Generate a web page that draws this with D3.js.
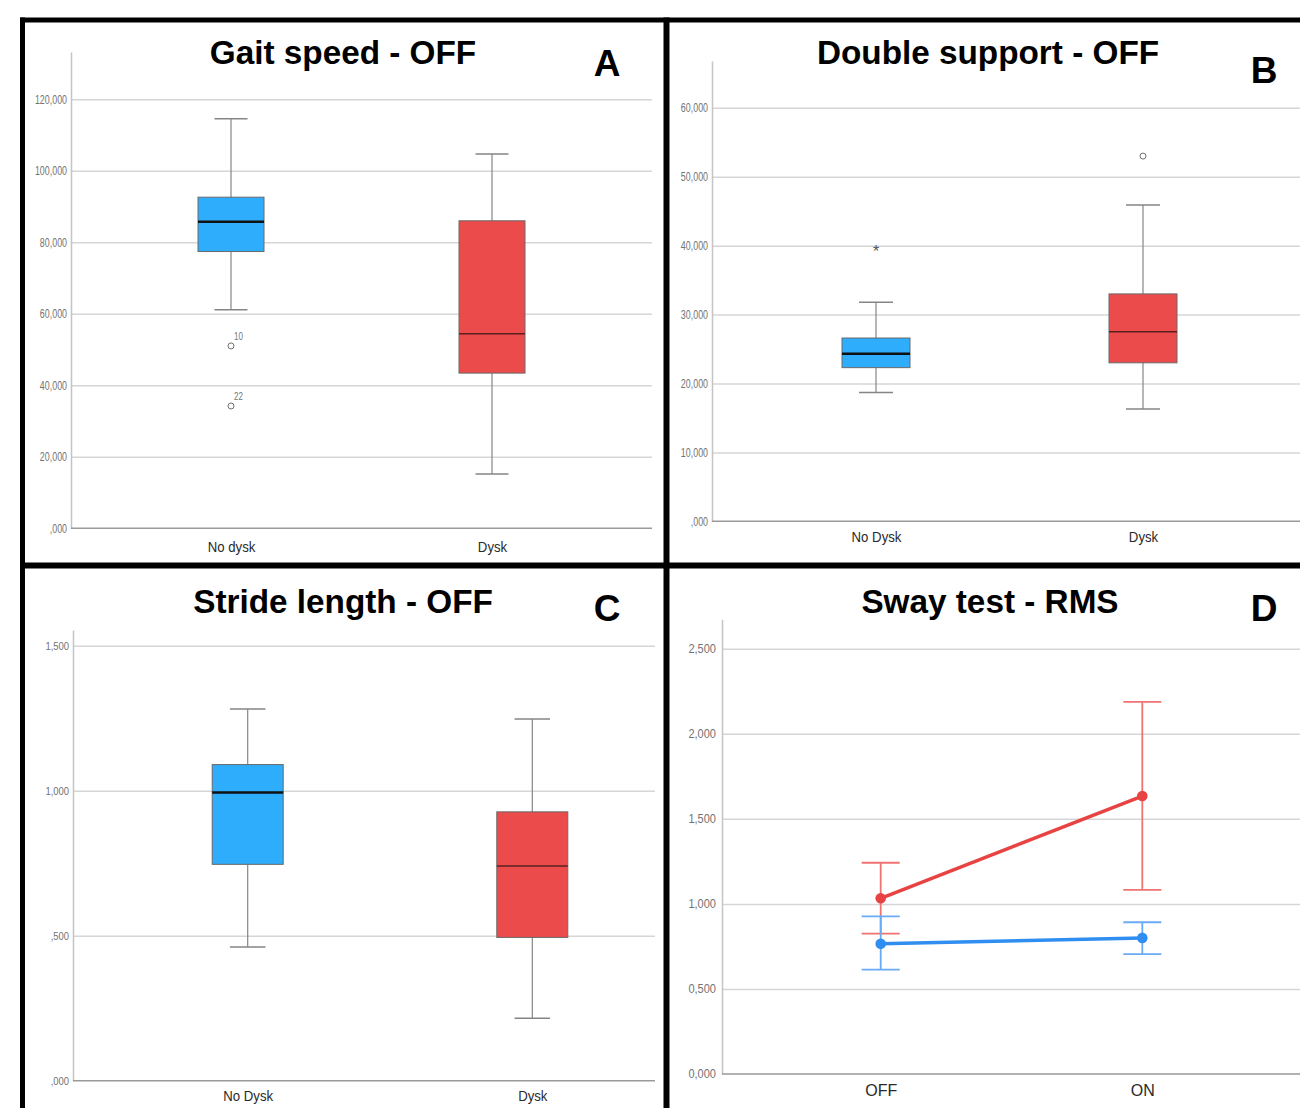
<!DOCTYPE html>
<html>
<head>
<meta charset="utf-8">
<script src="https://cdn.jsdelivr.net/npm/d3@7"></script>
<style>
    body { margin: 0; background: #fff; }
    svg { display: block; font-family: "Liberation Sans", Arial, sans-serif; }
</style>
</head>
<body>
<svg id="chart" width="1300" height="1108"></svg>
<script>
// ---- data ----
// box = [lower whisker, Q1, median, Q3, upper whisker]
const gaitCategories = ["No dysk", "Dysk"];
const gaitSpeedBoxes = [[61.1, 77.4, 85.7, 92.6, 114.5], [15.2, 43.4, 54.4, 86.0, 104.7]];
const gaitSpeedOutliers = [
    { group: "No dysk", value: 51.0, label: "10", kind: "outlier" },
    { group: "No dysk", value: 34.2, label: "22", kind: "outlier" },
];
const gaitSpeedTicks = [0, 20, 40, 60, 80, 100, 120];

const doubleSupportCategories = ["No Dysk", "Dysk"];
const doubleSupportBoxes = [[18.7, 22.3, 24.3, 26.6, 31.8], [16.3, 23.0, 27.5, 33.0, 45.9]];
const doubleSupportOutliers = [
    { group: "No Dysk", value: 39.5, label: "", kind: "extreme" },
    { group: "Dysk", value: 53.0, label: "", kind: "outlier" },
];
const doubleSupportTicks = [0, 10, 20, 30, 40, 50, 60];

const strideCategories = ["No Dysk", "Dysk"];
const strideLengthBoxes = [[0.461, 0.746, 0.994, 1.090, 1.282], [0.215, 0.494, 0.740, 0.927, 1.247]];
const strideTicks = [0, 0.5, 1.0, 1.5];

const swayConditions = ["OFF", "ON"];
const swayNoDyskMean = [0.766, 0.800];
const swayNoDyskLow = [0.613, 0.705];
const swayNoDyskHigh = [0.927, 0.892];
const swayDyskMean = [1.033, 1.634];
const swayDyskLow = [0.825, 1.082];
const swayDyskHigh = [1.242, 2.187];
const swayTicks = [0, 0.5, 1.0, 1.5, 2.0, 2.5];

// ---- styles ----
const BLUE_FILL = "#2eadfd";
const RED_FILL = "#ec4b4b";
const GRID = "#d6d6d6";

const svg = d3.select("#chart");

// SPSS style numbers: decimal comma, 3 decimals, optional leading zero
function spssFormat(leadingZero) {
    return v => {
        let s = d3.format(".3f")(v).replace(".", ",");
        if (!leadingZero && s.startsWith("0,")) s = s.slice(1);
        return s;
    };
}

/**
 * Draw axes + gridlines for one panel, returns the scales.
 */
function drawFrame(cfg) {
    let g = svg.append("g");
    let y = d3.scaleLinear().domain([0, cfg.yMax]).range([cfg.bottom, cfg.top]);
    let x = d3.scalePoint().domain(cfg.categories).range(cfg.catRange);

    // gridlines
    g.append("g")
        .attr("transform", `translate(${cfg.left},0)`)
        .call(d3.axisLeft(y).tickValues(cfg.ticks.filter(t => t > 0))
            .tickSize(-(cfg.right - cfg.left)).tickFormat(""))
        .call(a => a.select(".domain").remove())
        .call(a => a.selectAll("line").attr("stroke", GRID).attr("stroke-width", 1.5));

    // y axis
    let yAxis = g.append("g")
        .attr("transform", `translate(${cfg.left},0)`)
        .call(d3.axisLeft(y).tickValues(cfg.ticks).tickSize(0)
            .tickFormat(spssFormat(cfg.leadingZero)));
    yAxis.select(".domain").attr("stroke", "#c4c4c4").attr("stroke-width", 1.5);
    yAxis.selectAll("text")
        .attr("fill", "#737373")
        .attr("font-size", cfg.tickFont)
        .attr("x", -cfg.tickPad / cfg.tickScale)
        .attr("transform", `scale(${cfg.tickScale},1)`);

    // x axis
    let xAxis = g.append("g")
        .attr("transform", `translate(0,${cfg.bottom})`)
        .call(d3.axisBottom(x).tickSize(0).tickPadding(cfg.catPad));
    xAxis.select(".domain")
        .attr("d", `M${cfg.left},0H${cfg.right}`)
        .attr("stroke", "#9a9a9a").attr("stroke-width", 1.5);
    xAxis.selectAll("text")
        .attr("fill", "#2a2a2a")
        .attr("font-size", cfg.catFont)
        .attr("transform", `scale(${cfg.catScale},1)`);

    // title and panel letter
    g.append("text")
        .attr("x", cfg.titleX).attr("y", cfg.titleY)
        .attr("text-anchor", "middle")
        .attr("font-size", 33.3).attr("font-weight", "bold")
        .text(cfg.title);
    g.append("text")
        .attr("x", cfg.letterX).attr("y", cfg.letterY)
        .attr("text-anchor", "middle")
        .attr("font-size", 37).attr("font-weight", "bold")
        .text(cfg.letter);

    return { g, x, y };
}

function drawBoxPanel(cfg) {
    let { g, x, y } = drawFrame(cfg);
    let fills = [BLUE_FILL, RED_FILL];
    let medians = [{ c: "#111", w: 2.5 }, { c: "#5a2020", w: 1.5 }];

    cfg.boxes.forEach((b, i) => {
        let cat = cfg.categories[i];
        let cx = x(cat);
        let bw = cfg.boxWidth;
        let bg = g.append("g");

        // whiskers
        bg.append("line")
            .attr("x1", cx).attr("x2", cx)
            .attr("y1", y(b[0])).attr("y2", y(b[4]))
            .attr("stroke", "#858585").attr("stroke-width", 1.2);
        [b[0], b[4]].forEach(v => {
            bg.append("line")
                .attr("x1", cx - bw / 4).attr("x2", cx + bw / 4)
                .attr("y1", y(v)).attr("y2", y(v))
                .attr("stroke", "#858585").attr("stroke-width", 1.5);
        });

        // box
        bg.append("rect")
            .attr("x", cx - bw / 2).attr("width", bw)
            .attr("y", y(b[3])).attr("height", y(b[1]) - y(b[3]))
            .attr("fill", fills[i])
            .attr("stroke", "#6a6a6a").attr("stroke-width", 1);

        // median
        bg.append("line")
            .attr("x1", cx - bw / 2).attr("x2", cx + bw / 2)
            .attr("y1", y(b[2])).attr("y2", y(b[2]))
            .attr("stroke", medians[i].c).attr("stroke-width", medians[i].w);
    });

    (cfg.outliers || []).forEach(o => {
        let cx = x(o.group);
        if (o.kind === "extreme") {
            g.append("text")
                .attr("x", cx).attr("y", y(o.value) + 8)
                .attr("text-anchor", "middle")
                .attr("font-size", 16).attr("fill", "#555")
                .text("*");
        } else {
            g.append("circle")
                .attr("cx", cx).attr("cy", y(o.value)).attr("r", 3)
                .attr("fill", "none").attr("stroke", "#707070").attr("stroke-width", 1);
        }
        if (o.label) {
            g.append("text")
                .attr("x", cx + 3).attr("y", y(o.value) - 6)
                .attr("font-size", 10).attr("fill", "#777")
                .attr("transform", `translate(${(cx + 3) * 0.2},0) scale(0.8,1)`)
                .text(o.label);
        }
    });
}

function drawLinePanel(cfg) {
    let { g, x, y } = drawFrame(cfg);
    let series = [
        { mean: swayDyskMean, low: swayDyskLow, high: swayDyskHigh, line: "#e84343", bar: "#f07272" },
        { mean: swayNoDyskMean, low: swayNoDyskLow, high: swayNoDyskHigh, line: "#2f8ef0", bar: "#6aabf5" },
    ];
    let capHalf = 19;

    series.forEach(s => {
        swayConditions.forEach((c, i) => {
            let cx = x(c);
            g.append("line")
                .attr("x1", cx).attr("x2", cx)
                .attr("y1", y(s.low[i])).attr("y2", y(s.high[i]))
                .attr("stroke", s.bar).attr("stroke-width", 1.8);
            [s.low[i], s.high[i]].forEach(v => {
                g.append("line")
                    .attr("x1", cx - capHalf).attr("x2", cx + capHalf)
                    .attr("y1", y(v)).attr("y2", y(v))
                    .attr("stroke", s.bar).attr("stroke-width", 1.8);
            });
        });
    });

    series.forEach(s => {
        let line = d3.line()
            .x((d, i) => x(swayConditions[i]))
            .y(d => y(d));
        g.append("path")
            .datum(s.mean)
            .attr("d", line)
            .attr("fill", "none")
            .attr("stroke", s.line).attr("stroke-width", 3.5);
        g.selectAll(null)
            .data(s.mean)
            .join("circle")
            .attr("cx", (d, i) => x(swayConditions[i]))
            .attr("cy", d => y(d))
            .attr("r", 5.3)
            .attr("fill", s.line);
    });
}

drawBoxPanel({
    title: "Gait speed - OFF", titleX: 343, titleY: 64, letter: "A", letterX: 607, letterY: 76,
    categories: gaitCategories, boxes: gaitSpeedBoxes, outliers: gaitSpeedOutliers, ticks: gaitSpeedTicks,
    left: 71, right: 652, top: 52, bottom: 528.3, yMax: 133.2, catRange: [231, 492], boxWidth: 66,
    leadingZero: false, tickFont: 12, tickScale: 0.74, tickPad: 4,
    catFont: 15, catScale: 0.88, catPad: 13,
});

drawBoxPanel({
    title: "Double support - OFF", titleX: 988, titleY: 64, letter: "B", letterX: 1264, letterY: 83,
    categories: doubleSupportCategories, boxes: doubleSupportBoxes, outliers: doubleSupportOutliers, ticks: doubleSupportTicks,
    left: 712, right: 1300, top: 61, bottom: 521.3, yMax: 66.8, catRange: [876, 1143], boxWidth: 68,
    leadingZero: false, tickFont: 12, tickScale: 0.74, tickPad: 4,
    catFont: 15, catScale: 0.88, catPad: 10.5,
});

drawBoxPanel({
    title: "Stride length - OFF", titleX: 343, titleY: 613, letter: "C", letterX: 607, letterY: 621,
    categories: strideCategories, boxes: strideLengthBoxes, outliers: [], ticks: strideTicks,
    left: 73, right: 655, top: 630, bottom: 1080.7, yMax: 1.554, catRange: [247.7, 532.3], boxWidth: 71,
    leadingZero: false, tickFont: 10.5, tickScale: 0.9, tickPad: 4,
    catFont: 15, catScale: 0.88, catPad: 9.5,
});

drawLinePanel({
    title: "Sway test - RMS", titleX: 990, titleY: 613, letter: "D", letterX: 1264, letterY: 621,
    categories: swayConditions, ticks: swayTicks,
    left: 722, right: 1300, top: 619.3, bottom: 1074, yMax: 2.673, catRange: [880.7, 1142.3],
    leadingZero: true, tickFont: 12, tickScale: 0.92, tickPad: 6,
    catFont: 16, catScale: 1, catPad: 11,
});

// ---- black panel frame ----
const frame = svg.append("g").attr("stroke", "#000");
frame.append("line").attr("x1", 20).attr("x2", 1300).attr("y1", 20).attr("y2", 20).attr("stroke-width", 5);
frame.append("line").attr("x1", 20).attr("x2", 1300).attr("y1", 565.5).attr("y2", 565.5).attr("stroke-width", 6);
frame.append("line").attr("x1", 22.5).attr("x2", 22.5).attr("y1", 17.5).attr("y2", 1108).attr("stroke-width", 5);
frame.append("line").attr("x1", 666.5).attr("x2", 666.5).attr("y1", 17.5).attr("y2", 1108).attr("stroke-width", 6);
</script>
</body>
</html>
